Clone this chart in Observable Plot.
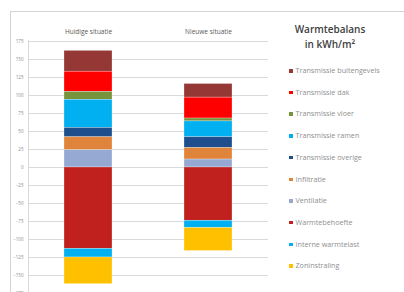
<!DOCTYPE html>
<html>
<head>
<meta charset="utf-8">
<script src="https://cdn.jsdelivr.net/npm/d3@7"></script>
<script src="https://cdn.jsdelivr.net/npm/@observablehq/plot@0.6"></script>
<style>
  html, body { margin: 0; padding: 0; background: #fff; overflow: hidden; }
  body { width: 404px; height: 292px; position: relative; font-family: "Open Sans", sans-serif; }
  #frame { position: absolute; left: 10px; top: 11px; width: 400px; height: 290px; border-top: 1px solid #d4d4d4; border-left: 1px solid #d4d4d4; }
  #chart { position: absolute; left: 0; top: 0; }
  #legend { position: absolute; left: 0; top: 0; width: 404px; height: 292px; pointer-events: none; }
  .ltitle { position: absolute; left: 280px; width: 100px; text-align: center; font-size: 10px; font-weight: 600; color: #404040; line-height: 14px; }
  .item { position: absolute; left: 289px; font-size: 7.2px; color: #8f8f8f; white-space: nowrap; line-height: 8px; }
  .item i { display: inline-block; width: 3.5px; height: 3.5px; margin-right: 3px; vertical-align: 0.5px; }
</style>
</head>
<body>
<div id="frame"></div>
<div id="chart"></div>
<div id="legend"></div>
<script>
const categories = ["Huidige situatie", "Nieuwe situatie"];
const series = ["Transmissie buitengevels", "Transmissie dak", "Transmissie vloer", "Transmissie ramen", "Transmissie overige", "Infiltratie", "Ventilatie", "Warmtebehoefte", "Interne warmtelast", "Zoninstraling"];
const colors = ["#953735", "#ff0000", "#77933c", "#00b0f0", "#1f4e8c", "#e0843b", "#95a9d3", "#c0211f", "#00b0f0", "#ffc000"];
// values per series: [Huidige situatie, Nieuwe situatie]
const buitengevels = [29, 19];
const dak = [28, 29];
const vloer = [11, 4];
const ramen = [39, 22];
const overige = [13, 15];
const infiltratie = [18, 16];
const ventilatie = [24, 11];
const warmtebehoefte = [-113, -74];
const internewarmtelast = [-12, -10];
const zoninstraling = [-37, -32];
const yTicks = [-175, -150, -125, -100, -75, -50, -25, 0, 25, 50, 75, 100, 125, 150, 175];
const legendTitle = ["Warmtebalans", "in kWh/m²"];

const valueLists = [buitengevels, dak, vloer, ramen, overige, infiltratie, ventilatie, warmtebehoefte, internewarmtelast, zoninstraling];
const data = [];
series.forEach((s, i) => categories.forEach((c, j) => data.push({situatie: c, post: s, waarde: valueLists[i][j]})));
const stackOrder = ["Ventilatie", "Infiltratie", "Transmissie overige", "Transmissie ramen", "Transmissie vloer", "Transmissie dak", "Transmissie buitengevels", "Warmtebehoefte", "Interne warmtelast", "Zoninstraling"];

const chart = Plot.plot({
  width: 404,
  height: 292,
  marginLeft: 28,
  marginRight: 136,
  marginTop: 41,
  marginBottom: -1,
  style: {fontFamily: "Open Sans, sans-serif", background: "transparent", overflow: "visible"},
  x: {domain: categories, paddingInner: 0.6, paddingOuter: 0.3, label: null},
  y: {domain: [-175, 175], label: null},
  color: {domain: series, range: colors},
  marks: [
    Plot.ruleY(yTicks, {stroke: "#d9d9d9", strokeWidth: 1}),
    Plot.barY(data, Plot.stackY({x: "situatie", y: "waarde", z: "post", fill: "post", order: stackOrder, stroke: "#ffffff", strokeOpacity: 0.45, strokeWidth: 0.6})),
    Plot.axisY({ticks: yTicks, tickSize: 0, tickPadding: 5, fontSize: 4.5, fill: "#8a8a8a", label: null}),
    Plot.axisX({anchor: "top", tickSize: 0, tickPadding: 8, fontSize: 6.5, fill: "#595959", label: null})
  ]
});
document.getElementById("chart").appendChild(chart);
const svg = d3.select(chart);
// vertical axis line at left of plot area
svg.append("line").attr("x1", 28.5).attr("x2", 28.5).attr("y1", 40).attr("y2", 292).attr("stroke", "#d9d9d9");

const lg = document.getElementById("legend");
legendTitle.forEach((t, i) => {
  const d = document.createElement("div");
  d.className = "ltitle";
  d.style.top = (22 + i * 15) + "px";
  d.textContent = t;
  lg.appendChild(d);
});
series.forEach((s, i) => {
  const d = document.createElement("div");
  d.className = "item";
  d.style.top = (66 + i * 21.7) + "px";
  d.innerHTML = `<i style="background:${colors[i]}"></i>${s}`;
  lg.appendChild(d);
});
</script>
</body>
</html>
